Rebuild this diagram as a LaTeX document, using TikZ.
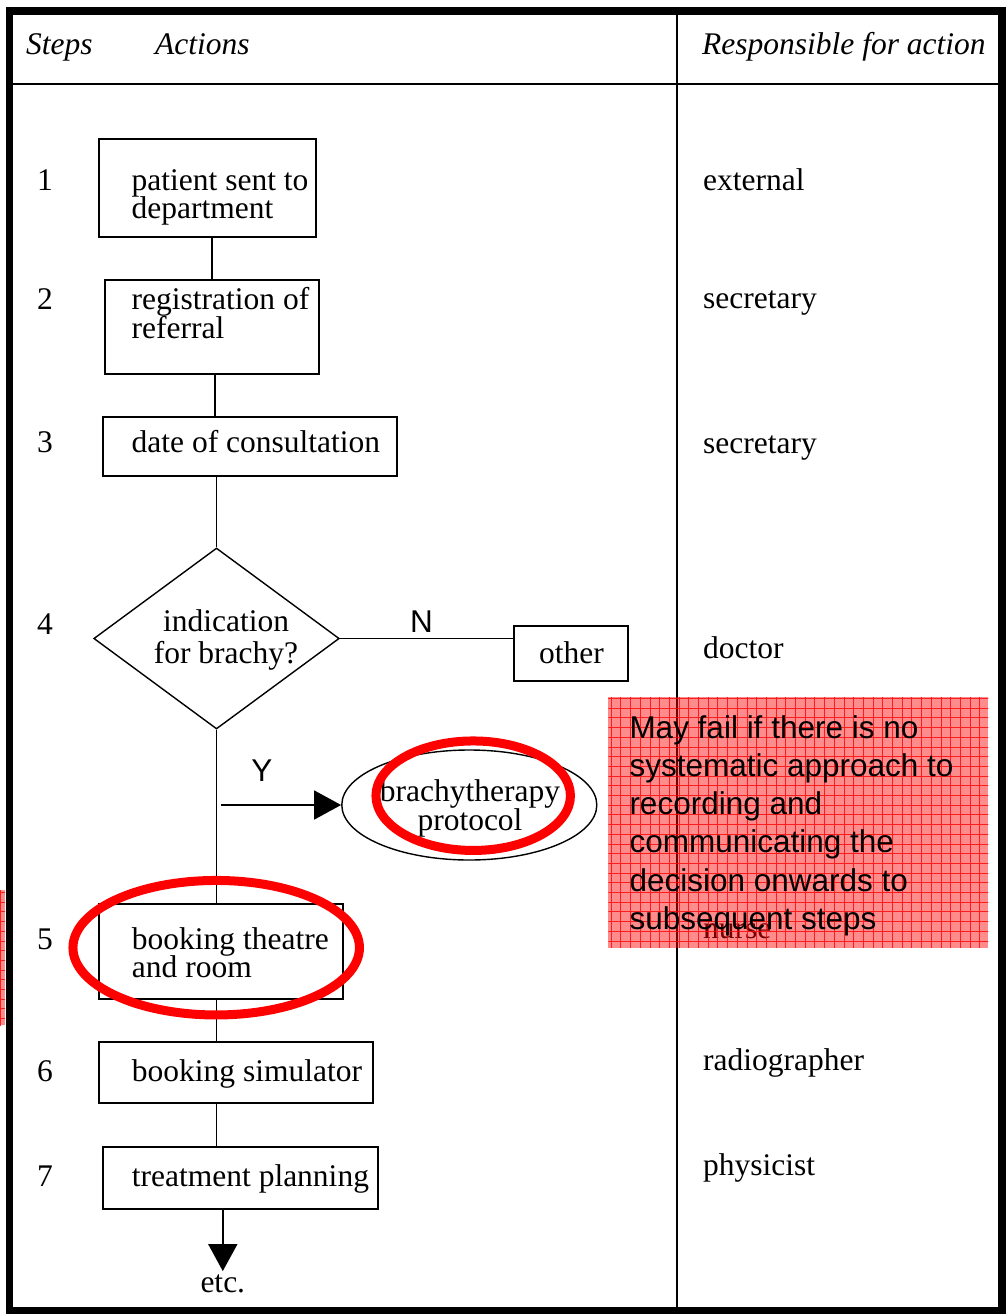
\documentclass[tikz,border=0pt]{standalone}
\usepackage{fontspec}
\setmainfont{Liberation Serif}
\newfontfamily\notefont{Liberation Sans}
\usetikzlibrary{arrows.meta}
\usetikzlibrary{shapes.geometric}
\usetikzlibrary{positioning}

\newcommand\flowfont{\fontsize{31.5}{28.3}\selectfont\lineskiplimit=-50pt}

\begin{document}
\begin{tikzpicture}[x=1pt, y=-1pt, box/.style={rectangle, draw, line width=1.8pt, inner sep=0pt}, txt/.style={anchor=base west, inner sep=0pt, align=left, font=\flowfont}, mid/.style={anchor=base, inner sep=0pt, align=center, font=\flowfont}, link/.style={line width=1.8pt}, arrow/.style={line width=1.8pt, -{Triangle[length=27pt, width=29pt]}}, ring/.style={ellipse, draw=red, line width=9pt, inner sep=0pt}, note/.style={fill=red, fill opacity=0.45}, notegrid/.style={red, line width=0.8pt, opacity=0.8}]
\useasboundingbox (0,0) rectangle (1006,1314);
% table frame
\draw [line width=7.5pt] (9.5,11) rectangle (1002.2,1310.5);
\draw [line width=2pt] (9.5,83.5) -- (1002.2,83.5);
\draw [line width=2pt] (677,11) -- (677,1310.5);
\node [txt, font=\flowfont\itshape] at (26,55) {Steps};
\node [txt, font=\flowfont\itshape] at (155,55) {Actions};
\node [txt, font=\flowfont\itshape] at (702,55) {Responsible for action};
% flow chart (multi-line texts sit on their last baseline)
\node (B1) [box, minimum width=216.7, minimum height=98] at (207.4,188.3) {};
\node (B2) [box, minimum width=214.3, minimum height=94] at (212.2,327) {};
\node (B3) [box, minimum width=294.3, minimum height=58.4] at (250.2,446.5) {};
\node (D) [diamond, draw, line width=1.4pt, inner sep=0pt, minimum width=245.5, minimum height=181] at (216.5,638.5) {};
\node (OTHER) [box, minimum width=114, minimum height=55] at (571,653.2) {};
\node (PROTO) [ellipse, draw, line width=1.4pt, inner sep=0pt, minimum width=255, minimum height=110] at (469.3,805) {};
\node (B5) [box, minimum width=243.7, minimum height=95] at (220.8,951.5) {};
\node (B6) [box, minimum width=273.7, minimum height=61.6] at (235.8,1072.5) {};
\node (B7) [box, minimum width=275, minimum height=62.3] at (240.8,1177.8) {};
\node (ETC) [mid] at (222.8,1292) {etc.};
\coordinate (YBRANCH) at (220.7,805);
\node [txt] at (131.5,218.3) {patient sent to\\department};
\node [txt] at (131.5,338) {registration of\\referral};
\node [txt] at (131.5,452) {date of consultation};
\node [mid, font=\fontsize{31.5}{31.6}\selectfont] at (226,663.3) {indication\\for brachy?};
\node [mid] at (571.5,663) {other};
\node [mid] at (470,830) {brachytherapy\\protocol};
\node [txt] at (131.7,977.3) {booking theatre\\and room};
\node [txt] at (131.7,1081.7) {booking simulator};
\node [txt] at (131.7,1186.7) {treatment planning};
\node [mid, font=\notefont\fontsize{31.5}{38}\selectfont] at (421.5,632.5) {N};
\node [mid, font=\notefont\fontsize{31.5}{38}\selectfont] at (262,781.7) {Y};
\draw [link] (B1.south -| B2.north) -- (B2.north);
\draw [link] ([xshift=2.8pt]B2.south) -- ([xshift=2.8pt]B2.south |- B3.north);
\draw [link] (D.north |- B3.south) -- (D.north);
\draw [link] (D.east) -- (D.east -| OTHER.west);
\draw [link] (D.south) -- (D.south |- B5.north);
\draw [arrow] (YBRANCH) -- (PROTO.west);
\draw [link] (D.south |- B5.south) -- (D.south |- B6.north);
\draw [link] (D.south |- B6.south) -- (D.south |- B7.north);
\draw [arrow, shorten >=3pt] (B7.south -| ETC.north) -- (ETC.north);
% steps and responsibilities
\node [txt] at (37,190) {1};
\node [txt] at (37,309) {2};
\node [txt] at (37,452) {3};
\node [txt] at (37,634) {4};
\node [txt] at (37,949.3) {5};
\node [txt] at (37,1081.7) {6};
\node [txt] at (37,1186.7) {7};
\node [txt] at (703,190) {external};
\node [txt] at (703,308.3) {secretary};
\node [txt] at (703,453.3) {secretary};
\node [txt] at (703,658) {doctor};
\node [txt] at (703,938.5) {nurse};
\node [txt] at (703,1070) {radiographer};
\node [txt] at (703,1175.5) {physicist};
% review marks
\node (RING1) [ring, minimum width=194.5, minimum height=109.5] at (473.2,795.7) {};
\node (RING2) [ring, minimum width=286.5, minimum height=134.5] at (216.2,947.7) {};
\fill [note] (608.3,697.3) rectangle (988.3,947.7);
\begin{scope}
\clip (608.3,697.3) rectangle (988.3,947.7);
\draw [notegrid, step=9.7pt] (600,690) grid (995,955);
\end{scope}
\fill [note] (0,890) rectangle (5,1025);
\begin{scope}
\clip (0,890) rectangle (5,1025);
\draw [notegrid, step=9.7pt] (-10,880) grid (10,1030);
\end{scope}
\node (NOTE) [txt, font=\notefont\fontsize{31.5}{38.2}\selectfont] at (629.3,929.3) {May fail if there is no\\systematic approach to\\recording and\\communicating the\\decision onwards to\\subsequent steps};
\end{tikzpicture}
\end{document}
